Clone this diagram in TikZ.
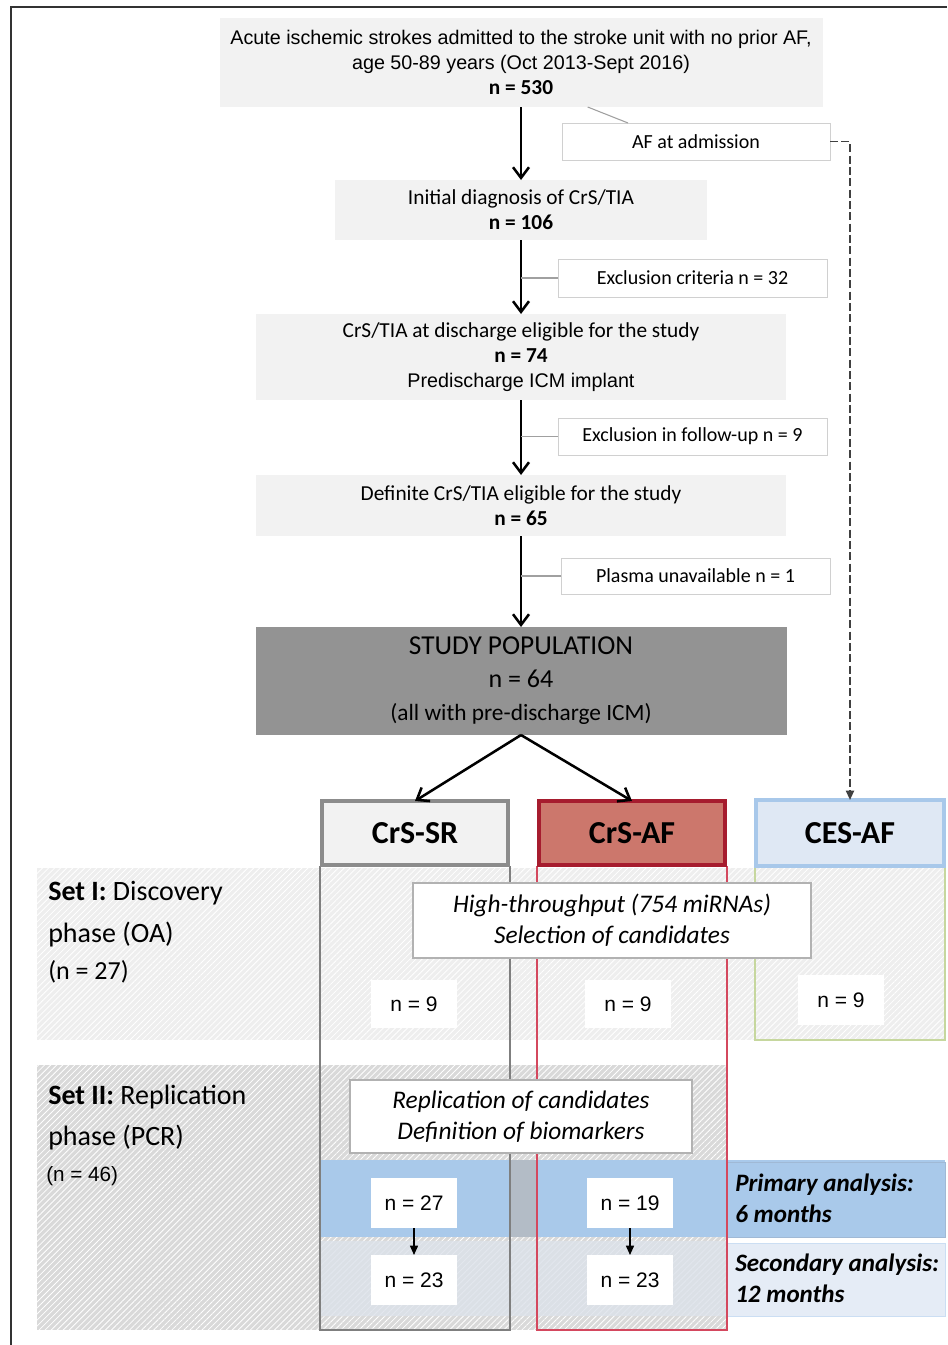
\documentclass[tikz,border=0pt]{standalone}
\usepackage{fontspec}
\setmainfont{Carlito}
\newfontfamily\arialf{Liberation Sans}
\usetikzlibrary{arrows.meta,patterns.meta,calc}
\definecolor{boxgray}{HTML}{F2F2F2}
\definecolor{spgray}{HTML}{939393}
\definecolor{srborder}{HTML}{8C8C8C}
\definecolor{afborder}{HTML}{A61C2E}
\definecolor{affill}{HTML}{CC776C}
\definecolor{cesborder}{HTML}{A8C8EA}
\definecolor{cesfill}{HTML}{DFE8F4}
\definecolor{cesgreen}{HTML}{C6D79E}
\definecolor{primblue}{HTML}{A9C9EA}
\definecolor{midblue}{HTML}{B3BCC6}
\definecolor{secblue}{HTML}{E5ECF6}
\definecolor{secmix}{HTML}{DCE2EA}
\definecolor{setIgray}{HTML}{EEEEEE}
\definecolor{setIIgray}{HTML}{D9D9D9}
\definecolor{sidegray}{HTML}{A0A0A0}
\definecolor{colred}{HTML}{D4485E}
\definecolor{colgray}{HTML}{7F7F7F}
\begin{document}
\begin{tikzpicture}[x=0.75pt,y=-0.75pt,
  sz/.style 2 args={minimum width=#1*0.75pt,minimum height=#2*0.75pt,inner sep=0pt,outer sep=0pt},
  flowbox/.style={fill=boxgray,draw=none,align=center,font=\fontsize{16}{19}\selectfont},
  sidebox/.style={fill=white,draw=boxgray!70!gray,line width=0.6pt,font=\fontsize{15}{19}\selectfont},
  sideline/.style={draw=sidegray,line width=0.8pt},
  mainarrow/.style={draw=black,line width=1.9pt,-{Straight Barb[length=8pt,width=12pt,line width=1.9pt]}},
  smallarrow/.style={draw=black,line width=1.1pt,-{Triangle[length=7pt,width=6pt]}},
  dasharrow/.style={draw=black!75,line width=1.4pt,dash pattern=on 6pt off 2.5pt,-{Triangle[length=7pt,width=6pt]}},
  headbox/.style={font=\fontsize{24}{28}\selectfont\bfseries},
  textbox/.style={fill=white,draw=black!30,line width=1.5pt,align=center,font=\fontsize{19}{23}\selectfont\itshape},
  nbox/.style={fill=white,draw=none,font=\arialf\fontsize{15.75}{19}\selectfont},
  settext/.style={anchor=west,inner sep=0pt,font=\fontsize{21}{25}\selectfont},
  anatext/.style={anchor=west,inner sep=0pt,align=left,font=\fontsize{18.8}{23.3}\selectfont\bfseries\itshape},
  hatch/.style={pattern={Lines[angle=45,distance=3.2pt,line width=0.6pt]},pattern color=white}
]
\useasboundingbox (0,0) rectangle (947,1345);
\fill[white] (0,0) rectangle (947,1345);
% frame
\draw[line width=1.3pt,black!80] (11,1345) -- (11,7) -- (947,7);

% Set I band
\fill[setIgray] (37,868) rectangle (945,1040);
\fill[hatch] (37,868) rectangle (945,1040);
% Set II band
\fill[setIIgray] (37,1065) rectangle (727,1330);
\fill[hatch] (37,1065) rectangle (727,1330);

% primary band
\fill[primblue] (320,1160) rectangle (510,1237);
\fill[midblue] (510,1160) rectangle (537,1237);
\fill[primblue] (537,1160) rectangle (945,1237);
\draw[cesborder!80!gray,line width=0.5pt] (727,1162) rectangle (945,1237);
% secondary band
\fill[secmix,opacity=0.8] (320,1241) rectangle (727,1316);
\fill[secblue] (727,1243) rectangle (945,1316);
\draw[cesborder!60!white,line width=0.6pt] (727,1243) rectangle (945,1316);

% column lines
\draw[colgray,line width=0.9pt] (320,866) -- (320,1330) -- (510,1330) -- (510,866);
\draw[colred,line width=0.9pt] (537,866) -- (537,1330) -- (727,1330) -- (727,866);
\draw[cesgreen,line width=0.9pt] (755,866) rectangle (945,1040);

% flow boxes
\node[flowbox,sz={603}{89}] (b1) at (521,62.5)
  {{\arialf\fontsize{14.8}{19}\selectfont Acute ischemic strokes admitted to the stroke unit with no prior AF,}\\
   {\arialf\fontsize{14.8}{19}\selectfont age 50-89 years (Oct 2013-Sept 2016)}\\
   \textbf{n = 530}};
\node[sidebox,sz={268}{37}] (af) at (696,141.5) {AF at admission};
\node[flowbox,sz={372}{60}] (b2) at (521,210) {Initial diagnosis of CrS/TIA\\\textbf{n = 106}};
\node[sidebox,sz={269}{38}] (ex1) at (692.5,278) {Exclusion criteria n = 32};
\node[flowbox,sz={530}{86}] (b3) at (521,357)
  {CrS/TIA at discharge eligible for the study\\\textbf{n = 74}\\
   {\arialf\fontsize{14.8}{19}\selectfont Predischarge ICM implant}};
\node[sidebox,sz={269}{37}] (ex2) at (692.5,436.5) {Exclusion in follow-up n = 9};
\node[flowbox,sz={530}{61}] (b4) at (521,505.5) {Definite CrS/TIA eligible for the study\\\textbf{n = 65}};
\node[sidebox,sz={269}{36}] (ex3) at (695.5,576) {Plasma unavailable n = 1};
\node[flowbox,fill=spgray,sz={531}{108},font=\fontsize{19.5}{24.75}\selectfont] (sp) at (521,681)
  {{\fontsize{20.5}{24.75}\selectfont STUDY POPULATION}\\n = 64\\{\fontsize{17.5}{20}\selectfont(all with pre-discharge ICM)}};

% header boxes
\node[headbox,sz={186}{64},fill=boxgray,draw=srborder,line width=3.5pt] (sr) at (415,833) {CrS-SR};
\node[headbox,sz={186}{64},fill=affill,draw=afborder,line width=3.5pt] (caf) at (632,833) {CrS-AF};
\node[headbox,sz={188}{66},fill=cesfill,draw=cesborder,line width=2.5pt] (ces) at (850,833) {CES-AF};

% arrows
\draw[mainarrow] (b1.south) -- (b2.north);
\draw[mainarrow] (b2.south) -- (b3.north);
\draw[mainarrow] (b3.south) -- (b4.north);
\draw[mainarrow] (b4.south) -- (sp.north);
\draw[mainarrow] (sp.south) -- (sr.north);
\draw[mainarrow] (sp.south) -- (caf.north);
\draw[sideline] ([xshift=50pt]b1.south) -- ([xshift=-51pt]af.north);
\draw[sideline] (ex1.west) -- (ex1.west -| b2.south);
\draw[sideline] (ex2.west) -- (ex2.west -| b3.south);
\draw[sideline] (ex3.west) -- (ex3.west -| b4.south);
\draw[dasharrow] (af.east) -| (ces.north);

% set texts
\node[settext] (s1a) at (48,893) {\textbf{Set I:} Discovery};
\node[settext] (s1b) at (48,935) {phase (OA)};
\node[settext,font=\fontsize{19.5}{23}\selectfont] (s1c) at (48,972) {(n = 27)};
\node[settext] (s2a) at (48,1097) {\textbf{Set II:} Replication};
\node[settext] (s2b) at (48,1138) {phase (PCR)};
\node[settext,font=\arialf\fontsize{15.5}{19}\selectfont] (s2c) at (46,1176) {(n = 46)};

% text boxes
\node[textbox,sz={398}{75}] (ht) at (612,920.5) {High-throughput (754 miRNAs)\\Selection of candidates};
\node[textbox,sz={342}{73}] (rep) at (521,1116.5) {Replication of candidates\\Definition of biomarkers};

% n boxes
\node[nbox,sz={86}{48}] (n9a) at (414,1004) {n = 9};
\node[nbox,sz={86}{48}] (n9b) at (628,1004) {n = 9};
\node[nbox,sz={86}{50}] (n9c) at (841,1000) {n = 9};
\node[nbox,sz={86}{50}] (n27) at (414,1203) {n = 27};
\node[nbox,sz={86}{50}] (n19) at (630,1203) {\raisebox{-5pt}{n = 19}};
\node[nbox,sz={86}{50}] (n23a) at (414,1280) {n = 23};
\node[nbox,sz={86}{50}] (n23b) at (630,1280) {n = 23};
\draw[smallarrow] (n27.south) -- (n23a.north);
\draw[smallarrow] (n19.south) -- (n23b.north);

% analysis labels
\node[anatext] (pa) at (735,1198.5) {Primary analysis:\\6 months};
\node[anatext] (sa) at (735,1278.5) {Secondary analysis:\\12 months};
\end{tikzpicture}
\end{document}
